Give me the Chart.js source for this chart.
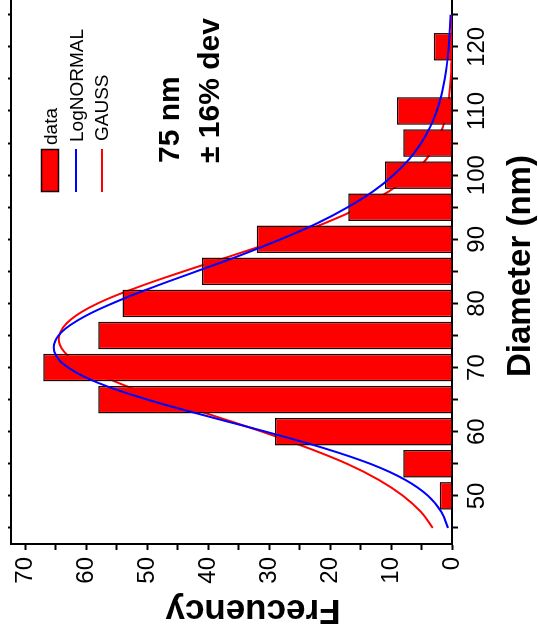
<!DOCTYPE html>
<html>
<head>
<meta charset="utf-8">
<script src="https://cdn.jsdelivr.net/npm/chart.js@4.4.1/dist/chart.umd.min.js"></script>
<style>
  html, body { margin: 0; padding: 0; background: #fff; overflow: hidden; }
  #wrap { position: relative; width: 538px; height: 642px; }
  /* the figure is printed turned a quarter turn to the left */
  #chart { position: absolute; left: 0; top: 0; transform-origin: 0 0;
           transform: translate(0, 642px) rotate(-90deg); }
</style>
</head>
<body>
<div id="wrap"><canvas id="chart" width="642" height="538"></canvas></div>
<script>
// histogram
var diameters = [50, 55, 60, 65, 70, 75, 80, 85, 90, 95, 100, 105, 110, 120];
var counts    = [2, 8, 29, 58, 67, 58, 54, 41, 32, 17, 11, 8, 9, 3];

// fitted curves, every 2.5 nm
var fitDiameters = [45, 47.5, 50, 52.5, 55, 57.5, 60, 62.5, 65, 67.5, 70, 72.5, 75, 77.5, 80, 82.5,
                    85, 87.5, 90, 92.5, 95, 97.5, 100, 102.5, 105, 107.5, 110, 112.5, 115, 117.5,
                    120, 122.5, 125];
var logNormalFit = [0.66, 1.73, 3.9, 7.67, 13.4, 21.2, 30.5, 40.4, 49.9, 57.7, 62.9, 65.2, 64.5, 61.1,
                    55.7, 49.1, 41.9, 34.7, 28.1, 22.1, 17.1, 12.9, 9.6, 7.0, 5.05, 3.58, 2.5, 1.73,
                    1.19, 0.8, 0.54, 0.36, 0.24];
var gaussFit     = [3.15, 5.1, 8.0, 12.0, 17.2, 23.7, 31.1, 39.1, 47.2, 54.4, 60.1, 63.6, 64.4, 62.5,
                    58.1, 51.6, 44.0, 35.9, 28.0, 20.9, 15.0, 10.3, 6.7, 4.2, 2.55, 1.5, 0.81, 0.45,
                    0.22, 0.1, 0.05, 0.02, 0.01];

var diameterLabels  = [50, 60, 70, 80, 90, 100, 110, 120];
var frecuencyLabels = [0, 10, 20, 30, 40, 50, 60, 70];
var fitText = ['75 nm', '\u00b1 16% dev'];

var FONT = "'Liberation Sans', Arial, Helvetica, sans-serif";

function toPoints(xs, ys) {
  var pts = [];
  for (var i = 0; i < xs.length; i++) pts.push({x: xs[i], y: ys[i]});
  return pts;
}

function noPadding(s) {
  s.paddingTop = 0; s.paddingBottom = 0; s.paddingLeft = 0; s.paddingRight = 0;
}

// titles, legend and the fit note
var extras = {
  id: 'extras',
  afterDraw: function(chart) {
    var ctx = chart.ctx;
    var ds = chart.data.datasets;
    ctx.save();
    ctx.fillStyle = '#000';
    ctx.textAlign = 'left';
    ctx.textBaseline = 'alphabetic';

    // axis titles
    ctx.font = 'bold 33px ' + FONT;
    ctx.fillText('Diameter (nm)', 265, 530);
    ctx.save();
    ctx.font = 'bold 35px ' + FONT;
    ctx.translate(42, 253);
    ctx.rotate(-Math.PI / 2);
    ctx.textAlign = 'center';
    ctx.fillText('Frecuency', 0, 0);
    ctx.restore();

    // legend
    ctx.font = '19px ' + FONT;
    ctx.fillStyle = ds[1].backgroundColor;
    ctx.fillRect(450, 41, 43, 18);
    ctx.strokeStyle = ds[1].borderColor;
    ctx.lineWidth = 1.5;
    ctx.strokeRect(450.5, 41.5, 42, 17);
    ctx.lineWidth = 2;
    ctx.strokeStyle = ds[0].borderColor;
    ctx.beginPath(); ctx.moveTo(450, 76); ctx.lineTo(493, 76); ctx.stroke();
    ctx.strokeStyle = ds[2].borderColor;
    ctx.beginPath(); ctx.moveTo(450, 102); ctx.lineTo(493, 102); ctx.stroke();
    ctx.fillStyle = '#000';
    ctx.fillText(ds[1].label, 497, 57);
    ctx.fillText(ds[0].label, 500, 83);
    ctx.fillText(ds[2].label, 501, 108);

    // fit result
    ctx.font = 'bold 30px ' + FONT;
    ctx.fillText(fitText[0], 479, 179);
    ctx.fillText(fitText[1], 479, 219);
    ctx.restore();
  }
};

new Chart(document.getElementById('chart'), {
  type: 'bar',
  data: {
    datasets: [
      {
        type: 'line',
        label: 'LogNORMAL',
        data: toPoints(fitDiameters, logNormalFit),
        borderColor: '#0000ff',
        borderWidth: 2,
        pointRadius: 0,
        tension: 0.4,
        fill: false,
        order: 0
      },
      {
        type: 'bar',
        label: 'data',
        data: toPoints(diameters, counts),
        backgroundColor: '#ff0000',
        borderColor: '#1a0000',
        borderWidth: 1.5,
        barPercentage: 0.86,
        categoryPercentage: 1,
        order: 1
      },
      {
        type: 'line',
        label: 'GAUSS',
        data: toPoints(fitDiameters, gaussFit),
        borderColor: '#ff0000',
        borderWidth: 2,
        pointRadius: 0,
        tension: 0.4,
        fill: false,
        order: 2
      }
    ]
  },
  options: {
    responsive: false,
    animation: false,
    devicePixelRatio: 1,
    layout: { padding: 0 },
    plugins: { legend: { display: false }, tooltip: { enabled: false } },
    scales: {
      x: {
        type: 'linear',
        position: 'bottom',
        min: 42.5,
        max: 127.3,
        offset: false,
        border: { color: '#000', width: 2 },
        grid: { offset: false, drawOnChartArea: false, drawTicks: true, tickLength: 6, tickWidth: 2, tickColor: '#000' },
        ticks: {
          stepSize: 5,
          includeBounds: false,
          autoSkip: false,
          maxRotation: 0,
          padding: 5,
          color: '#000',
          font: { family: FONT, size: 24 },
          callback: function(v) { return diameterLabels.indexOf(v) >= 0 ? String(v) : ''; }
        },
        afterFit: function(s) { s.height = 86; noPadding(s); }
      },
      xTop: {
        type: 'linear',
        position: 'top',
        min: 42.5,
        max: 127.3,
        offset: false,
        border: { color: '#000', width: 2 },
        grid: { offset: false, drawOnChartArea: false, drawTicks: true, tickLength: 3, tickWidth: 2, tickColor: '#000' },
        ticks: { display: false, stepSize: 5, includeBounds: false },
        afterFit: function(s) { s.height = 11; noPadding(s); }
      },
      y: {
        type: 'linear',
        min: 0,
        max: 72.3,
        border: { color: '#000', width: 2 },
        grid: { drawOnChartArea: false, drawTicks: true, tickLength: 6, tickWidth: 2, tickColor: '#000' },
        ticks: {
          stepSize: 5,
          includeBounds: false,
          autoSkip: false,
          padding: 7,
          color: '#000',
          font: { family: FONT, size: 24 },
          callback: function(v) { return frecuencyLabels.indexOf(v) >= 0 ? String(v) : ''; }
        },
        afterFit: function(s) { s.width = 98; noPadding(s); }
      }
    }
  },
  plugins: [extras]
});
</script>
</body>
</html>
